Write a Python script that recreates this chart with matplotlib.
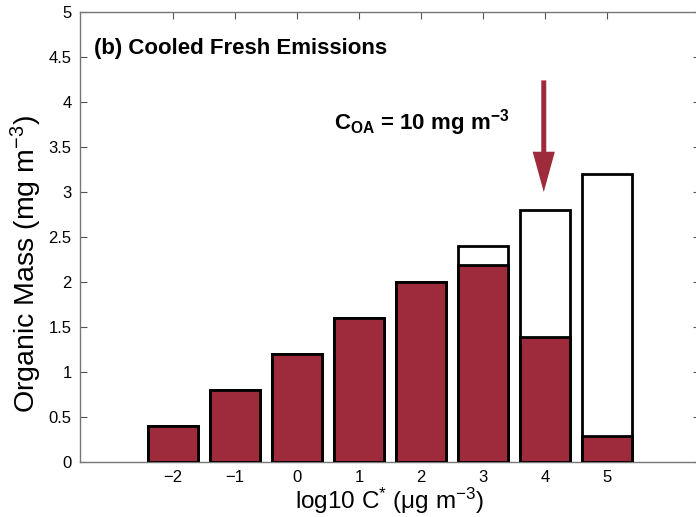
import matplotlib
matplotlib.use("Agg")

import numpy as np
import matplotlib.pyplot as plt

# -------------------------------
# Data
# -------------------------------
log_c = [-2, -1, 0, 1, 2, 3, 4, 5]
total_mass = [0.4, 0.8, 1.2, 1.6, 2.0, 2.4, 2.8, 3.2]
particle_mass = [0.4, 0.8, 1.2, 1.6, 2.0, 2.19, 1.39, 0.29]
y_ticks = [0, 0.5, 1, 1.5, 2, 2.5, 3, 3.5, 4, 4.5, 5]
y_tick_labels = ["0", "0.5", "1", "1.5", "2", "2.5", "3", "3.5", "4", "4.5", "5"]

# -------------------------------
# Plot
# -------------------------------
plt.rcParams["font.family"] = ["Liberation Sans", "DejaVu Sans"]
plt.rcParams["mathtext.fontset"] = "custom"
plt.rcParams["mathtext.rm"] = "Liberation Sans"
plt.rcParams["mathtext.it"] = "Liberation Sans"
plt.rcParams["mathtext.bf"] = "Liberation Sans:bold"

fig = plt.figure(figsize=(6.96, 5.17), dpi=100)
ax = fig.add_axes([80 / 696, 55 / 517, 620 / 696, 450 / 517])

red = "#9e2b3b"
ax.bar(log_c, total_mass, width=0.8, color="white", edgecolor="black", linewidth=2, zorder=2)
ax.bar(log_c, particle_mass, width=0.8, color=red, edgecolor="black", linewidth=2, zorder=3)

ax.set_xlim(-3.5, 6.5)
ax.set_ylim(0, 5)
ax.set_xticks(log_c)
ax.set_xticklabels([str(v).replace("-", "\u2212") for v in log_c])
ax.set_yticks(y_ticks)
ax.set_yticklabels(y_tick_labels)

ax.tick_params(direction="in", top=True, right=True, length=5, width=0.8,
               color="#555555", labelsize=12, pad=6)
for s in ax.spines.values():
    s.set_color("#777777")
    s.set_linewidth(1.0)

ax.set_ylabel("Organic Mass (mg m$^{-3}$)", fontsize=20.5)
ax.yaxis.set_label_coords(-0.058, 0.44)
ax.set_xlabel("log10 C$^{*}$ ($\\mu$g m$^{-3}$)", fontsize=17.5, labelpad=0)

ax.text(-3.28, 4.6, "(b) Cooled Fresh Emissions", fontsize=16, fontweight="bold",
        va="center", ha="left")
ax.text(0.6, 3.77, "C$_{\\mathbf{OA}}$ = 10 mg m$^{\\mathbf{-3}}$", fontsize=16,
        fontweight="bold", va="center", ha="left")

ax.annotate("", xy=(3.98, 3.0), xytext=(3.98, 4.24),
            arrowprops=dict(width=3.6, headwidth=16, headlength=29, shrink=0,
                            color=red, lw=0), zorder=4)

fig.savefig("out.png", dpi=100)
